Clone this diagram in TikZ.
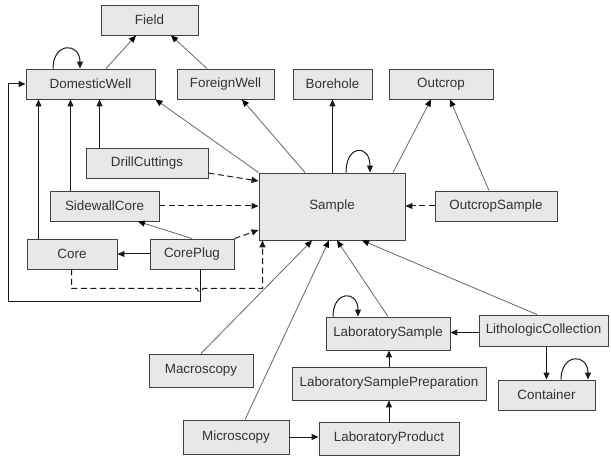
\documentclass[tikz,border=0pt]{standalone}
\usepackage{fontspec}
\setmainfont{Liberation Sans}
\usetikzlibrary{arrows.meta}
\definecolor{boxfill}{HTML}{E8E8E8}
\definecolor{boxline}{HTML}{404040}
\tikzset{
  box/.style={draw=boxline, line width=0.9pt, fill=boxfill, inner sep=0pt, minimum height=30pt,
    font=\fontsize{13.4}{16}\selectfont, text=black!80},
  arr/.style={draw=black!90, line width=1pt, -{Triangle[length=7pt,width=6pt]}},
  diag/.style={draw=black!60, line width=0.8pt, -{Triangle[length=7pt,width=6pt,color=black]}},
  dsh/.style={arr, dash pattern=on 6pt off 3.5pt}
}
\begin{document}
\begin{tikzpicture}[x=1pt,y=-1pt]
\useasboundingbox (0,0) rectangle (611,457);
% boxes
\node[box, minimum width=97pt] (field) at (149.5,20) {Field};
\node[box, minimum width=129pt] (dw) at (90.5,84) {DomesticWell};
\node[box, minimum width=97pt] (fw) at (225.5,84) {ForeignWell};
\node[box, minimum width=79pt] (bh) at (332.5,84) {Borehole};
\node[box, minimum width=104pt] (oc) at (441,84) {Outcrop};
\node[box, minimum width=122pt] (dc) at (147,163) {DrillCuttings};
\node[box, minimum width=146pt, minimum height=67pt] (sa) at (332,206.5) {Sample};
\node[box, minimum width=109pt] (swc) at (104.5,206) {SidewallCore};
\node[box, minimum width=122pt] (os) at (496,206) {OutcropSample};
\node[box, minimum width=90pt] (core) at (72,254) {Core};
\node[box, minimum width=84pt] (cp) at (192,254) {CorePlug};
\node[box, minimum width=124pt, minimum height=33pt] (ls) at (388,333.5) {LaboratorySample};
\node[box, minimum width=129pt, minimum height=31pt] (lc) at (543.5,330.5) {LithologicCollection};
\node[box, minimum width=104pt, minimum height=33pt] (mac) at (201,370.5) {Macroscopy};
\node[box, minimum width=194pt, minimum height=33pt] (lsp) at (389,383.5) {LaboratorySamplePreparation};
\node[box, minimum width=97pt] (cont) at (546.5,395) {Container};
\node[box, minimum width=106pt, minimum height=34pt] (mic) at (236,437) {Microscopy};
\node[box, minimum width=140pt, minimum height=33pt] (lp) at (389,438.5) {LaboratoryProduct};
% to Field
\draw[diag] (106,0 |- dw.north) -- (136,0 |- field.south);
\draw[diag] (207,0 |- fw.north) -- (171,0 |- field.south);
% self loops
\draw[arr] (53,0 |- dw.north) .. controls (53,42) and (80,42) .. (80,0 |- dw.north);
\draw[arr] (346,0 |- sa.north) .. controls (346,144) and (370,144) .. (370,0 |- sa.north);
\draw[arr] (333,0 |- ls.north) .. controls (333,290) and (358,290) .. (358,0 |- ls.north);
\draw[arr] (561,0 |- cont.north) .. controls (561,353) and (588,353) .. (588,0 |- cont.north);
% Sample upward
\draw[diag] (sa.north west) -- (dw.south east);
\draw[diag] (305,0 |- sa.north) -- (242,0 |- fw.south);
\draw[arr] (332.5,0 |- sa.north) -- (bh.south);
\draw[diag] (393,0 |- sa.north) -- (431,0 |- oc.south);
\draw[diag] (489,0 |- os.north) -- (450,0 |- oc.south);
\draw[dsh] (os.west) -- (sa.east |- os.west);
% well parts
\draw[arr] (99.5,0 |- dc.north) -- (99.5,0 |- dw.south);
\draw[arr] (70.5,0 |- swc.north) -- (70.5,0 |- dw.south);
\draw[arr] (38.5,0 |- core.north) -- (38.5,0 |- dw.south);
\draw[dsh] (dc.east |- 0,173) -- (sa.west |- 0,181);
\draw[dsh] (swc.east) -- (sa.west |- swc.east);
\draw[arr] (cp.west) -- (core.east);
\draw[diag] (cp.north) -- (138,0 |- swc.south);
\draw[dsh] (cp.north east) -- (sa.west |- 0,230);
\draw[dsh] (71.5,0 |- core.south) -- (71.5,288.5) -- (197,288.5) arc[start angle=180,end angle=0,radius=3] -- (262.5,288.5) -- (262.5,0 |- sa.south);
\draw[arr] (200.5,0 |- cp.south) -- (200.5,301.5) -- (8.5,301.5) -- (8.5,0 |- dw.west) -- (dw.west);
% bottom part to Sample
\draw[diag] (mac.north) -- (312,0 |- sa.south);
\draw[diag] (245,0 |- mic.north) -- (329,0 |- sa.south);
\draw[diag] (ls.north) -- (337,0 |- sa.south);
\draw[diag] (537,0 |- lc.north) -- (362,0 |- sa.south);
\draw[arr] (lc.west |- 0,332.5) -- (ls.east |- 0,332.5);
\draw[arr] (546.5,0 |- lc.south) -- (546.5,0 |- cont.north);
\draw[arr] (lsp.north) -- (lsp.north |- ls.south);
\draw[arr] (lp.north) -- (lp.north |- lsp.south);
\draw[arr] (mic.east) -- (lp.west |- mic.east);
\end{tikzpicture}
\end{document}
